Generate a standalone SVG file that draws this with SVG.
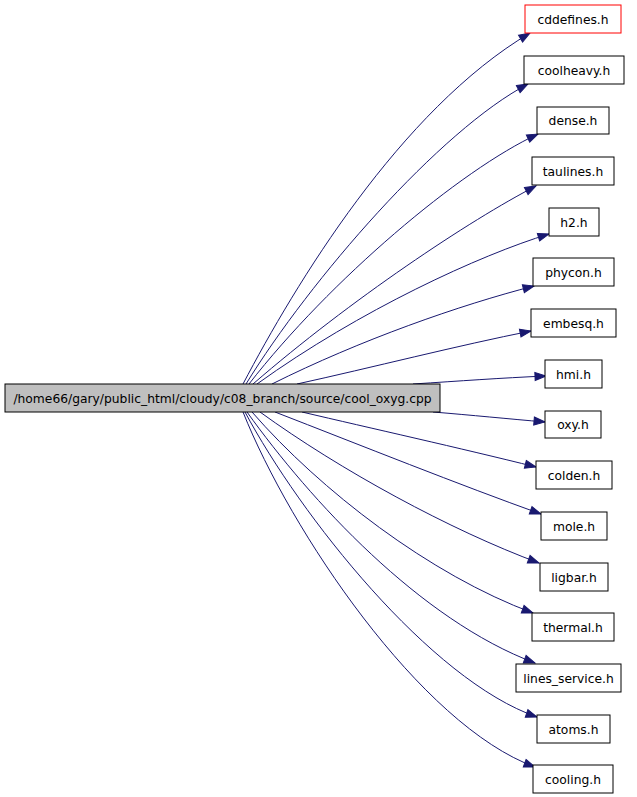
<svg xmlns="http://www.w3.org/2000/svg" width="637" height="797" viewBox="0 0 637 797">
<style>
.n rect{fill:#fff;stroke:#000;stroke-width:1}
.n text{font-family:"DejaVu Sans",sans-serif;font-size:12.3px;text-anchor:middle;fill:#000}
.e path{fill:none;stroke:#191970;stroke-width:1;marker-end:url(#a)}
</style>
<defs>
<marker id="a" markerUnits="userSpaceOnUse" markerWidth="12" markerHeight="9" refX="11" refY="4" orient="auto" overflow="visible">
<polygon points="0,0 11,4 0,8" fill="#191970" stroke="#191970"/>
</marker>
</defs>
<rect width="637" height="797" fill="#fff"/>
<g id="edges" class="e">
<path d="M243,384 C295,285 400,110 530,33"/>
<path d="M246,384 C310,280 440,130 528,84"/>
<path d="M249,384 C330,280 460,170 538,134"/>
<path d="M253,384 C350,300 470,220 536,186"/>
<path d="M257,384 C360,310 480,255 549,234"/>
<path d="M272,384 C360,340 460,305 534,286"/>
<path d="M297,384 C370,368 460,345 531,331"/>
<path d="M413,384 C460,381 500,378 546,376"/>
<path d="M433,412 C470,415 510,419 545,422"/>
<path d="M302,412 C370,428 460,448 536,467"/>
<path d="M275,412 C360,445 460,485 541,514"/>
<path d="M260,412 C340,470 450,530 539,563"/>
<path d="M252,412 C320,490 430,575 533,613"/>
<path d="M247,412 C310,500 420,620 535,663"/>
<path d="M245,412 C300,515 430,680 537,717"/>
<path d="M243,412 C290,530 420,725 535,767"/>
</g>
<g id="main" class="n"><rect x="5" y="384" width="435" height="28" style="fill:#bfbfbf"/><text x="222.5" y="402.5">/home66/gary/public_html/cloudy/c08_branch/source/cool_oxyg.cpp</text></g>
<g id="cddefines" class="n"><rect x="525" y="5" width="96" height="28" style="stroke:#f00"/><text x="573" y="23.5">cddefines.h</text></g>
<g id="coolheavy" class="n"><rect x="524" y="56" width="100" height="28"/><text x="574" y="74.5">coolheavy.h</text></g>
<g id="dense" class="n"><rect x="537" y="107" width="72" height="27"/><text x="573" y="125">dense.h</text></g>
<g id="taulines" class="n"><rect x="532" y="157" width="82" height="28"/><text x="573" y="175.5">taulines.h</text></g>
<g id="h2" class="n"><rect x="549" y="208" width="50" height="28"/><text x="574" y="226.5">h2.h</text></g>
<g id="phycon" class="n"><rect x="533" y="258" width="81" height="28"/><text x="573.5" y="276.5">phycon.h</text></g>
<g id="embesq" class="n"><rect x="531" y="309" width="85" height="28"/><text x="573.5" y="327.5">embesq.h</text></g>
<g id="hmi" class="n"><rect x="545" y="360" width="57" height="28"/><text x="573.5" y="378.5">hmi.h</text></g>
<g id="oxy" class="n"><rect x="545" y="411" width="56" height="27"/><text x="573" y="429">oxy.h</text></g>
<g id="colden" class="n"><rect x="536" y="461" width="76" height="28"/><text x="574" y="479.5">colden.h</text></g>
<g id="mole" class="n"><rect x="541" y="512" width="66" height="28"/><text x="574" y="530.5">mole.h</text></g>
<g id="ligbar" class="n"><rect x="540" y="563" width="68" height="28"/><text x="574" y="581.5">ligbar.h</text></g>
<g id="thermal" class="n"><rect x="532" y="613" width="82" height="28"/><text x="573" y="631.5">thermal.h</text></g>
<g id="lines_service" class="n"><rect x="516" y="664" width="105" height="28"/><text x="568.5" y="682.5">lines_service.h</text></g>
<g id="atoms" class="n"><rect x="537" y="715" width="73" height="28"/><text x="573.5" y="733.5">atoms.h</text></g>
<g id="cooling" class="n"><rect x="533" y="765" width="80" height="28"/><text x="573" y="783.5">cooling.h</text></g>
</svg>
